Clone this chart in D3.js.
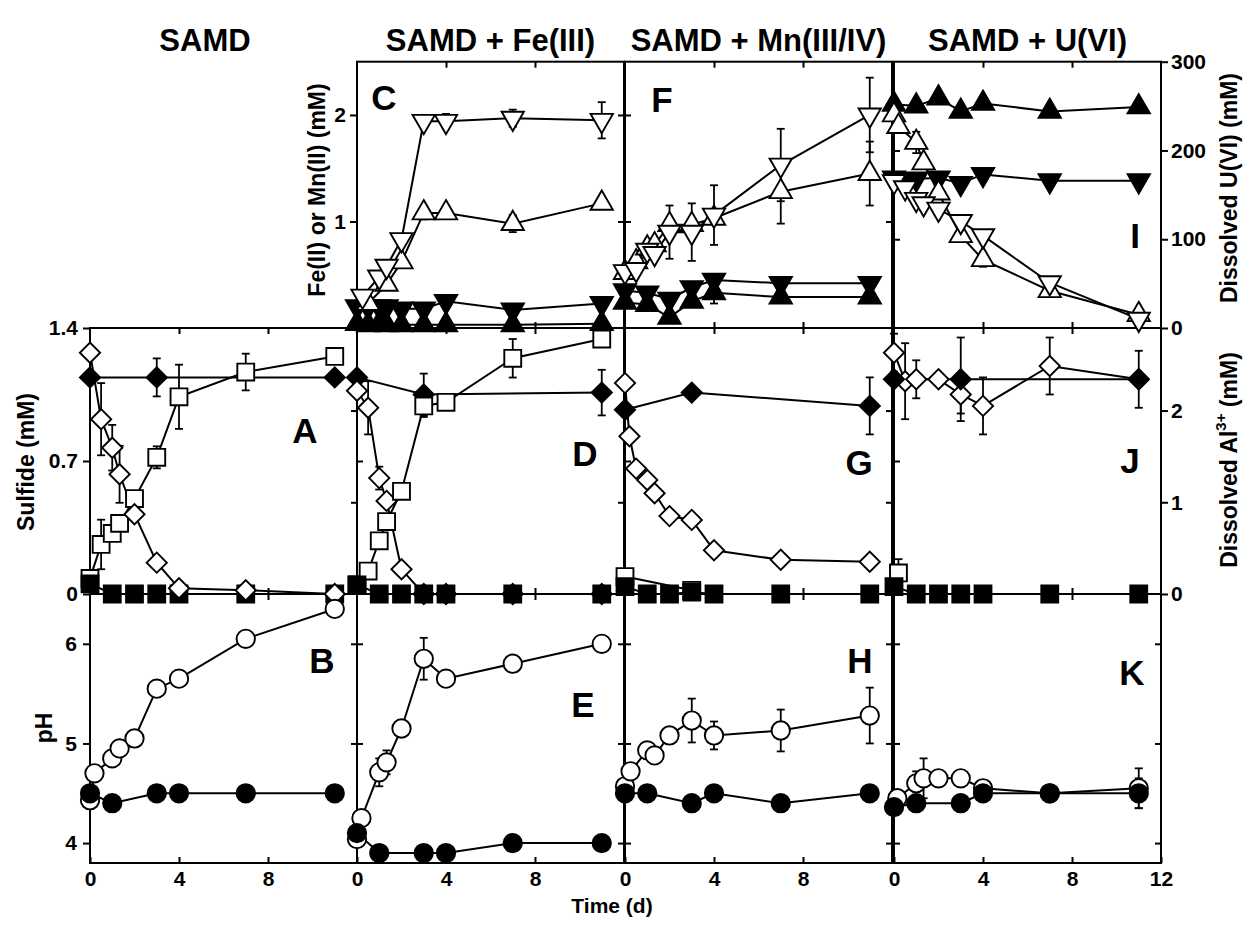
<!DOCTYPE html>
<html>
<head>
<meta charset="utf-8">
<script src="https://cdn.jsdelivr.net/npm/d3@7"></script>
<style>
  body { margin: 0; background: #fff; }
</style>
</head>
<body>
<div id="wrapper"></div>
<script>
// ---- data, each point is [day, value, error] ----
// SAMD
const aSulfide = [[0,1.27],[0.5,0.92,0.19],[1,0.77,0.12],[1.33,0.63,0.15],[2,0.42],[3,0.165],[4,0.03],[7,0.02],[11,0]]
const aSulfideCtrl = [[0,1.14],[3,1.14,0.1],[11,1.14]]
const aAl = [[0,0.17],[0.5,0.54,0.27],[1,0.66],[1.33,0.77],[2,1.04],[3,1.49,0.12],[4,2.15,0.35],[7,2.42,0.2],[11,2.59]]
const aAlCtrl = [[0,0.11],[1,0],[2,0],[3,0],[4,0],[7,0],[11,0]]
const bPh = [[0,4.43],[0.2,4.7],[1,4.85],[1.33,4.95],[2,5.05],[3,5.55],[4,5.65],[7,6.05],[11,6.35]]
const bPhCtrl = [[0,4.5],[1,4.4],[3,4.5],[4,4.5],[7,4.5],[11,4.5]]

// SAMD + Fe(III)
const cFeDown = [[0.25,0.3],[1,0.48],[1.33,0.58],[2,0.83],[3,1.94],[4,1.94,0.07],[7,1.97,0.08],[11,1.95,0.17]]
const cFeUp = [[0.5,0.23],[1.33,0.41],[2,0.62],[3,1.08,0.06],[4,1.08],[7,0.98,0.08],[11,1.17]]
const cFeDownCtrl = [[0,0.2],[0.5,0.2],[1,0.2],[1.33,0.2],[2,0.18],[3,0.18],[4,0.25],[7,0.17],[11,0.23]]
const cFeUpCtrl = [[0,0.04],[0.5,0.03],[1,0.04],[1.33,0.03],[2,0.03],[3,0.03],[4,0.03],[7,0.03],[11,0.04]]
const dSulfide = [[0,1.07],[0.5,0.98,0.14],[1,0.61,0.06],[1.33,0.49],[2,0.13],[3,0],[4,0],[7,0],[11,0]]
const dSulfideCtrl = [[0,1.14],[3,1.05,0.11],[11,1.06,0.12]]
const dAl = [[0,0.1],[0.5,0.25],[1,0.58],[1.33,0.79],[2,1.12],[3,2.05,0.12],[4,2.09],[7,2.57,0.21],[11,2.78]]
const dAlCtrl = [[0,0.1],[1,0],[2,0],[3,0],[4,0],[7,0],[11,0]]
const ePh = [[0,4.04],[0.2,4.25],[1,4.71,0.14],[1.33,4.81,0.12],[2,5.15],[3,5.85,0.21],[4,5.65],[7,5.8],[11,6.0]]
const ePhCtrl = [[0,4.1],[1,3.9],[3,3.9],[4,3.9],[7,4.0],[11,4.0]]

// SAMD + Mn(III/IV)
const fMnDown = [[0,0.53],[0.5,0.55],[1,0.73,0.05],[1.33,0.7],[2,0.9,0.25],[3,0.9,0.27],[4,1.06,0.28],[7,1.53,0.34],[11,2.0,0.35]]
const fMnUp = [[0,0.52],[0.5,0.62],[1,0.75],[1.33,0.78],[2,0.97],[3,0.97],[4,1.03],[7,1.28,0.3],[11,1.45,0.3]]
const fMnDownCtrl = [[0,0.35],[1,0.33],[2,0.27],[3,0.38],[4,0.45],[7,0.42],[11,0.42]]
const fMnUpCtrl = [[0,0.24],[1,0.22],[2,0.1],[3,0.25],[4,0.33,0.1],[7,0.29],[11,0.29]]
const gSulfide = [[0,1.11],[0.2,0.83],[0.5,0.66],[1,0.6],[1.33,0.53],[2,0.41],[3,0.39],[4,0.23],[7,0.18],[11,0.17]]
const gSulfideCtrl = [[0,0.97],[3,1.06],[11,0.99,0.15]]
const gAl = [[0,0.19],[3,0.04]]
const gAlCtrl = [[0,0.08],[1,0],[2,0],[3,0.02],[4,0],[7,0],[11,0]]
const hPh = [[0,4.57],[0.25,4.72],[1,4.93],[1.33,4.88],[2,5.08],[3,5.23,0.22],[4,5.08,0.14],[7,5.13,0.21],[11,5.28,0.28]]
const hPhCtrl = [[0,4.5],[1,4.5],[3,4.4],[4,4.5],[7,4.4],[11,4.5]]

// SAMD + U(VI)
const iUUp = [[0,240],[0.2,227],[1,209,12],[1.33,186],[2,152],[3,104],[4,77,8],[7,42],[11,15]]
const iUDown = [[0,165],[0.5,158],[1,145],[1.33,140],[2,134],[3,120],[4,104],[7,51],[11,10,10]]
const iUUpCtrl = [[0,252],[1,250],[2,259],[3,244],[4,253],[7,244],[11,249]]
const iUDownCtrl = [[0,169],[0.5,167],[1,168],[2,169],[3,163],[4,173],[7,166],[11,166]]
const jSulfide = [[0,1.27,0.1],[0.5,1.12,0.2],[1,1.13,0.1],[2,1.13],[3,1.05,0.1],[4,0.99,0.15],[7,1.2,0.15],[11,1.13]]
const jSulfideCtrl = [[0,1.13],[3,1.13,0.22],[11,1.13,0.15]]
const jAl = [[0.2,0.23,0.15]]
const jAlCtrl = [[0,0.08],[1,0],[2,0],[3,0],[4,0],[7,0],[11,0]]
const kPh = [[0.15,4.45],[1,4.6,0.12],[1.33,4.65,0.2],[2,4.65],[3,4.65],[4,4.55],[7,4.5],[11,4.55,0.2]]
const kPhCtrl = [[0,4.36],[1,4.4],[3,4.4],[4,4.5],[7,4.5],[11,4.5,0.15]]

const columnTitles = ["SAMD", "SAMD + Fe(III)", "SAMD + Mn(III/IV)", "SAMD + U(VI)"]
const dayTicks = [0, 4, 8]
const sulfideTicks = [0, 0.7, 1.4]
const phTicks = [4, 5, 6]
const metalTicks = [1, 2]
const uTicks = [0, 100, 200, 300]
const alTicks = [0, 1, 2]

// ---- layout ----
const FONT = "'Liberation Sans', Arial, sans-serif"
const colX = [90, 357, 625, 894]
const colW = 267
const rows = {
  top: {y0: 61.7, y1: 328},
  mid: {y0: 328, y1: 594},
  bot: {y0: 594, y1: 863},
}

const yScales = {
  fe: d3.scaleLinear().domain([0, 2.5]).range([rows.top.y1, rows.top.y0]),
  u: d3.scaleLinear().domain([0, 300]).range([rows.top.y1, rows.top.y0]),
  sulfide: d3.scaleLinear().domain([0, 1.4]).range([rows.mid.y1, rows.mid.y0]),
  al: d3.scaleLinear().domain([0, 2.9]).range([rows.mid.y1, rows.mid.y0]),
  ph: d3.scaleLinear().domain([3.8, 6.5]).range([rows.bot.y1, rows.bot.y0]),
}
const xScales = colX.map(x0 => d3.scaleLinear().domain([0, 12]).range([x0, x0 + colW]))

const panels = [
  {col:1, row:"top", letter:"C", lx:27, ly:36, series:[
    {d:cFeUpCtrl, shape:"up", fill:true, y:"fe"},
    {d:cFeDownCtrl, shape:"down", fill:true, y:"fe"},
    {d:cFeUp, shape:"up", fill:false, y:"fe"},
    {d:cFeDown, shape:"down", fill:false, y:"fe"}]},
  {col:2, row:"top", letter:"F", lx:37, ly:38, series:[
    {d:fMnUpCtrl, shape:"up", fill:true, y:"fe"},
    {d:fMnDownCtrl, shape:"down", fill:true, y:"fe"},
    {d:fMnUp, shape:"up", fill:false, y:"fe"},
    {d:fMnDown, shape:"down", fill:false, y:"fe"}]},
  {col:3, row:"top", letter:"I", lx:241, ly:174, series:[
    {d:iUUpCtrl, shape:"up", fill:true, y:"u"},
    {d:iUDownCtrl, shape:"down", fill:true, y:"u"},
    {d:iUUp, shape:"up", fill:false, y:"u"},
    {d:iUDown, shape:"down", fill:false, y:"u"}]},
  {col:0, row:"mid", letter:"A", lx:215, ly:102, series:[
    {d:aAl, shape:"square", fill:false, y:"al"},
    {d:aAlCtrl, shape:"square", fill:true, y:"al"},
    {d:aSulfideCtrl, shape:"diamond", fill:true, y:"sulfide"},
    {d:aSulfide, shape:"diamond", fill:false, y:"sulfide"}]},
  {col:1, row:"mid", letter:"D", lx:228, ly:125, series:[
    {d:dSulfideCtrl, shape:"diamond", fill:true, y:"sulfide"},
    {d:dSulfide, shape:"diamond", fill:false, y:"sulfide"},
    {d:dAl, shape:"square", fill:false, y:"al"},
    {d:dAlCtrl, shape:"square", fill:true, y:"al"}]},
  {col:2, row:"mid", letter:"G", lx:234, ly:134, series:[
    {d:gAl, shape:"square", fill:false, y:"al"},
    {d:gAlCtrl, shape:"square", fill:true, y:"al"},
    {d:gSulfideCtrl, shape:"diamond", fill:true, y:"sulfide"},
    {d:gSulfide, shape:"diamond", fill:false, y:"sulfide"}]},
  {col:3, row:"mid", letter:"J", lx:236, ly:132, series:[
    {d:jAl, shape:"square", fill:false, y:"al"},
    {d:jAlCtrl, shape:"square", fill:true, y:"al"},
    {d:jSulfide, shape:"diamond", fill:false, y:"sulfide"},
    {d:jSulfideCtrl, shape:"diamond", fill:true, y:"sulfide"}]},
  {col:0, row:"bot", letter:"B", lx:232, ly:66, series:[
    {d:bPh, shape:"circle", fill:false, y:"ph"},
    {d:bPhCtrl, shape:"circle", fill:true, y:"ph"}]},
  {col:1, row:"bot", letter:"E", lx:226, ly:110, series:[
    {d:ePh, shape:"circle", fill:false, y:"ph"},
    {d:ePhCtrl, shape:"circle", fill:true, y:"ph"}]},
  {col:2, row:"bot", letter:"H", lx:235, ly:66, series:[
    {d:hPh, shape:"circle", fill:false, y:"ph"},
    {d:hPhCtrl, shape:"circle", fill:true, y:"ph"}]},
  {col:3, row:"bot", letter:"K", lx:238, ly:78, series:[
    {d:kPh, shape:"circle", fill:false, y:"ph"},
    {d:kPhCtrl, shape:"circle", fill:true, y:"ph"}]},
]

// unlabelled ticks drawn inside each panel edge
const innerTicks = {
  top: {left: ["fe", metalTicks], right: ["fe", metalTicks]},
  mid: {left: ["sulfide", [0.7]], right: ["al", [1, 2]]},
  bot: {left: ["ph", phTicks], right: ["ph", phTicks]},
}

const symbols = {
  circle: d3.symbol(d3.symbolCircle, 265),
  square: d3.symbol(d3.symbolSquare, 285),
  diamond: d3.symbol(d3.symbolSquare, 205),
  up: d3.symbol(d3.symbolTriangle, 215),
  down: d3.symbol(d3.symbolTriangle, 215),
}
const rotation = {diamond: 45, down: 180}
const intFmt = d3.format("d")

// ---- draw ----
const wrapper = d3.select("#wrapper")
  .append("svg")
    .attr("width", 1252)
    .attr("height", 928)
    .attr("font-family", FONT)
    .attr("font-weight", "bold")

function styleAxis(g, size) {
  g.attr("font-family", FONT).attr("font-size", size).attr("font-weight", "bold")
  g.select(".domain").remove()
  g.selectAll(".tick line").attr("stroke", "#000").attr("stroke-width", 2)
  g.selectAll(".tick text").attr("fill", "#000")
}

// column titles
wrapper.selectAll(".col-title")
  .data(columnTitles)
  .join("text")
    .attr("class", "col-title")
    .attr("x", (d, i) => i == 0 ? 205 : colX[i] + colW / 2)
    .attr("y", 51)
    .attr("text-anchor", "middle")
    .attr("font-size", 31)
    .text(d => d)

const frames = wrapper.append("g")
const marks = wrapper.append("g")

panels.forEach(p => {
  const x = xScales[p.col]
  const r = rows[p.row]
  const x0 = colX[p.col], x1 = x0 + colW
  const g = frames.append("g")

  // x ticks on top and bottom edges
  g.append("g").attr("transform", `translate(0,${r.y0})`)
    .call(d3.axisBottom(x).tickValues([4, 8]).tickSize(6).tickFormat(""))
    .call(styleAxis, 20)
  if (p.row == "bot") {
    g.append("g").attr("transform", `translate(0,${r.y1})`)
      .call(d3.axisBottom(x).tickValues(p.col == 3 ? [...dayTicks, 12] : dayTicks)
        .tickSize(-6).tickPadding(8).tickFormat(intFmt))
      .call(styleAxis, 21)
  } else {
    g.append("g").attr("transform", `translate(0,${r.y1})`)
      .call(d3.axisTop(x).tickValues([4, 8]).tickSize(6).tickFormat(""))
      .call(styleAxis, 20)
  }

  // left edge
  const [lk, lv] = innerTicks[p.row].left
  if (p.col == 0 && p.row == "mid") {
    g.append("g").attr("transform", `translate(${x0},0)`)
      .call(d3.axisLeft(yScales.sulfide).tickValues(sulfideTicks)
        .tickFormat(d => d == 0 ? "0" : d3.format(".1f")(d)).tickSize(7).tickPadding(5))
      .call(styleAxis, 21)
  } else if (p.col == 0 && p.row == "bot") {
    g.append("g").attr("transform", `translate(${x0},0)`)
      .call(d3.axisLeft(yScales.ph).tickValues(phTicks).tickFormat(intFmt).tickSize(7).tickPadding(6))
      .call(styleAxis, 21)
  } else if (p.col == 1 && p.row == "top") {
    g.append("g").attr("transform", `translate(${x0},0)`)
      .call(d3.axisLeft(yScales.fe).tickValues(metalTicks).tickFormat(intFmt).tickSize(7).tickPadding(4))
      .call(styleAxis, 21)
  } else if (p.col == 3 && p.row == "top") {
    g.append("g").attr("transform", `translate(${x0},0)`)
      .call(d3.axisRight(yScales.u).tickValues([100, 200]).tickSize(6).tickFormat(""))
      .call(styleAxis, 20)
  } else {
    g.append("g").attr("transform", `translate(${x0},0)`)
      .call(d3.axisRight(yScales[lk]).tickValues(lv).tickSize(6).tickFormat(""))
      .call(styleAxis, 20)
  }

  // right edge
  const [rk, rv] = innerTicks[p.row].right
  if (p.col == 3 && p.row == "top") {
    g.append("g").attr("transform", `translate(${x1},0)`)
      .call(d3.axisRight(yScales.u).tickValues(uTicks).tickFormat(intFmt).tickSize(7).tickPadding(3))
      .call(styleAxis, 21)
  } else if (p.col == 3 && p.row == "mid") {
    g.append("g").attr("transform", `translate(${x1},0)`)
      .call(d3.axisRight(yScales.al).tickValues(alTicks).tickFormat(intFmt).tickSize(7).tickPadding(3))
      .call(styleAxis, 21)
  } else {
    g.append("g").attr("transform", `translate(${x1},0)`)
      .call(d3.axisLeft(yScales[rk]).tickValues(rv).tickSize(6).tickFormat(""))
      .call(styleAxis, 20)
  }

  g.append("rect")
    .attr("x", x0).attr("y", r.y0)
    .attr("width", colW).attr("height", r.y1 - r.y0)
    .attr("fill", "none").attr("stroke", "#000").attr("stroke-width", 2)

  // data
  const pg = marks.append("g")
  p.series.forEach(s => {
    const y = yScales[s.y]
    const lineGenerator = d3.line()
      .x(d => x(d[0]))
      .y(d => y(d[1]))
    pg.append("path")
      .attr("d", lineGenerator(s.d))
      .attr("fill", "none")
      .attr("stroke", "#000")
      .attr("stroke-width", 2)
  })
  p.series.forEach(s => {
    const y = yScales[s.y]
    const withErr = s.d.filter(d => d[2])
    const eb = pg.selectAll(null).data(withErr).join("g")
      .attr("stroke", "#000").attr("stroke-width", 1.8)
    eb.append("line")
      .attr("x1", d => x(d[0])).attr("x2", d => x(d[0]))
      .attr("y1", d => y(d[1] - d[2])).attr("y2", d => y(d[1] + d[2]))
    eb.append("line")
      .attr("x1", d => x(d[0]) - 4).attr("x2", d => x(d[0]) + 4)
      .attr("y1", d => y(d[1] + d[2])).attr("y2", d => y(d[1] + d[2]))
    eb.append("line")
      .attr("x1", d => x(d[0]) - 4).attr("x2", d => x(d[0]) + 4)
      .attr("y1", d => y(d[1] - d[2])).attr("y2", d => y(d[1] - d[2]))
  })
  p.series.forEach(s => {
    const y = yScales[s.y]
    pg.selectAll(null).data(s.d).join("path")
      .attr("d", symbols[s.shape]())
      .attr("transform", d => `translate(${x(d[0])},${y(d[1])}) rotate(${rotation[s.shape] || 0})`)
      .attr("fill", s.fill ? "#000" : "#fff")
      .attr("stroke", "#000")
      .attr("stroke-width", 1.9)
  })

  // panel letter
  wrapper.append("text")
    .attr("x", x0 + p.lx)
    .attr("y", r.y0 + p.ly)
    .attr("text-anchor", "middle")
    .attr("dominant-baseline", "central")
    .attr("font-size", 35)
    .text(p.letter)
})

// axis titles
function vLabel(x, y, txt) {
  return wrapper.append("text")
    .attr("transform", `translate(${x},${y}) rotate(-90)`)
    .attr("text-anchor", "middle")
    .attr("dominant-baseline", "central")
    .attr("font-size", 23)
    .text(txt)
}
vLabel(26, 462, "Sulfide (mM)")
vLabel(44, 728, "pH")
vLabel(317, 190, "Fe(II) or Mn(II) (mM)")
vLabel(1229, 188, "Dissolved U(VI) (mM)")
const al = vLabel(1229, 460, "Dissolved Al")
al.append("tspan").attr("dy", -9).attr("font-size", 15).text("3+")
al.append("tspan").attr("dy", 9).text(" (mM)")

wrapper.append("text")
  .attr("x", 612).attr("y", 913)
  .attr("text-anchor", "middle")
  .attr("font-size", 21)
  .text("Time (d)")
</script>
</body>
</html>
